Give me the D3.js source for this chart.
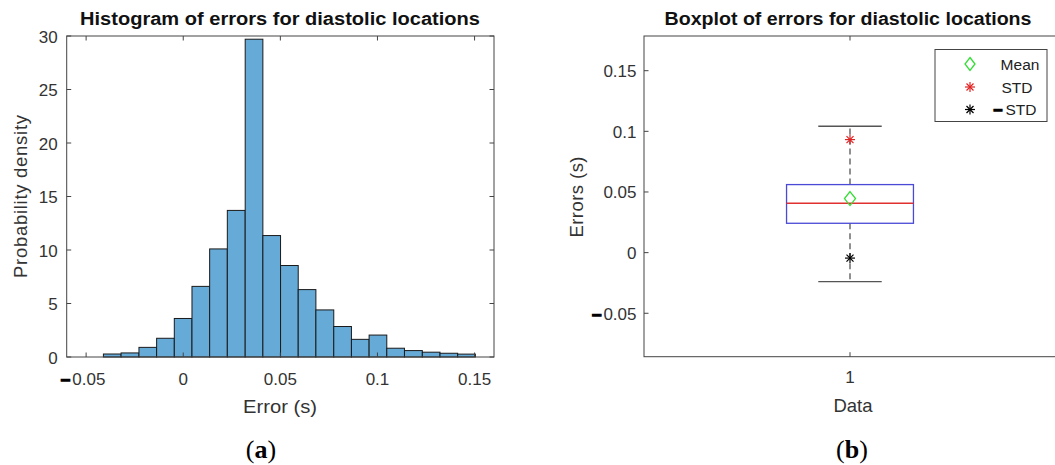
<!DOCTYPE html>
<html>
<head>
<meta charset="utf-8">
<script src="https://cdn.jsdelivr.net/npm/d3@7"></script>
<style>
  html, body { margin: 0; padding: 0; background: #fff; }
  svg { display: block; font-family: "Liberation Sans", Arial, sans-serif; }
</style>
</head>
<body>
<svg id="fig" width="1055" height="465"></svg>
<script>
// Histogram: bin edges (s) and probability density per bin
const binEdges = [-0.0411, -0.0320, -0.0228, -0.0137, -0.0046, 0.0045, 0.0136, 0.0227,
  0.0319, 0.0410, 0.0501, 0.0592, 0.0683, 0.0775, 0.0866, 0.0957, 0.1048, 0.1139,
  0.1231, 0.1322, 0.1413, 0.1504];
const density = [0.28, 0.38, 0.9, 1.75, 3.6, 6.6, 10.1, 13.7, 29.7, 11.35, 8.55, 6.3,
  4.4, 2.85, 1.65, 2.05, 0.82, 0.6, 0.45, 0.35, 0.27];
const histXTicks = [-0.05, 0, 0.05, 0.1, 0.15];
const histYTicks = [0, 5, 10, 15, 20, 25, 30];

// Boxplot summary of the errors (s)
const boxStats = { q1: 0.0242, median: 0.0407, q3: 0.0561, whiskerLow: -0.0239, whiskerHigh: 0.1042 };
const meanError = 0.0446;
const stdHigh = 0.0932;
const stdLow = -0.0045;
const boxYTicks = [-0.05, 0, 0.05, 0.1, 0.15];
const boxXTicks = [1];
const legendLabels = ["Mean", "STD", "STD"];

const svg = d3.select("#fig");
const textCol = "#333333";
const axisCol = "#444444";
const tickLen = 4.5;
const tickFont = 17;
const labelFont = 18.5;
const titleFont = 17.5;

function fmt(v) { return v === 0 ? "0" : String(Math.abs(v)); }

// Writes a tick label; negative values get a heavy black minus in front
function tickLabel(sel, v) {
  sel.text(null);
  if (v < 0) {
    sel.append("tspan").attr("fill", "#000").attr("stroke", "#000").attr("stroke-width", 1.3)
      .attr("font-weight", "bold").text("\u2013");
    sel.append("tspan").attr("dx", 2).text(fmt(v));
  } else {
    sel.append("tspan").text(fmt(v));
  }
}

// ---------------- (a) Histogram ----------------
const hx = d3.scaleLinear().domain([-0.06, 0.16]).range([66.7, 494]);
const hy = d3.scaleLinear().domain([0, 30]).range([357, 36]);
const gA = svg.append("g");

gA.selectAll("rect.bar")
  .data(density)
  .join("rect")
  .attr("class", "bar")
  .attr("x", (d, i) => hx(binEdges[i]))
  .attr("width", (d, i) => hx(binEdges[i + 1]) - hx(binEdges[i]))
  .attr("y", d => hy(d))
  .attr("height", d => hy(0) - hy(d))
  .attr("fill", "#66aad7")
  .attr("stroke", "#1a1a1a")
  .attr("stroke-width", 1);

// axes frame
gA.append("rect")
  .attr("x", hx.range()[0]).attr("y", hy.range()[1])
  .attr("width", hx.range()[1] - hx.range()[0])
  .attr("height", hy.range()[0] - hy.range()[1])
  .attr("fill", "none").attr("stroke", axisCol).attr("stroke-width", 1);

// x ticks (inside, bottom and top)
histXTicks.forEach(t => {
  const x = hx(t);
  gA.append("line").attr("x1", x).attr("x2", x).attr("y1", hy(0)).attr("y2", hy(0) - tickLen).attr("stroke", axisCol);
  gA.append("line").attr("x1", x).attr("x2", x).attr("y1", hy(30)).attr("y2", hy(30) + tickLen).attr("stroke", axisCol);
  gA.append("text").attr("x", x - (t < 0 ? 3 : 0)).attr("y", 385).attr("text-anchor", "middle")
    .attr("font-size", tickFont).attr("fill", textCol).call(tickLabel, t);
});
// y ticks (inside, left and right)
histYTicks.forEach(t => {
  const y = hy(t);
  gA.append("line").attr("x1", hx.range()[0]).attr("x2", hx.range()[0] + tickLen).attr("y1", y).attr("y2", y).attr("stroke", axisCol);
  gA.append("line").attr("x1", hx.range()[1]).attr("x2", hx.range()[1] - tickLen).attr("y1", y).attr("y2", y).attr("stroke", axisCol);
  gA.append("text").attr("x", hx.range()[0] - 9).attr("y", y + 6.5).attr("text-anchor", "end")
    .attr("font-size", tickFont).attr("fill", textCol).text(t);
});

gA.append("text").attr("x", 280).attr("y", 25).attr("text-anchor", "middle")
  .attr("font-size", titleFont).attr("font-weight", "bold").attr("fill", "#111")
  .attr("textLength", 400).attr("lengthAdjust", "spacingAndGlyphs")
  .text("Histogram of errors for diastolic locations");
gA.append("text").attr("x", 280).attr("y", 413).attr("text-anchor", "middle")
  .attr("font-size", labelFont).attr("fill", textCol)
  .attr("textLength", 74).attr("lengthAdjust", "spacingAndGlyphs").text("Error (s)");
gA.append("text").attr("transform", "translate(27,196.5) rotate(-90)").attr("text-anchor", "middle")
  .attr("font-size", labelFont).attr("fill", textCol)
  .attr("textLength", 163).attr("lengthAdjust", "spacing").text("Probability density");

gA.append("text").attr("x", 261).attr("y", 458).attr("text-anchor", "middle")
  .attr("font-family", "'Liberation Serif', 'DejaVu Serif', serif").attr("font-size", 26).attr("fill", "#000")
  .html('(<tspan font-weight="bold">a</tspan>)');

// ---------------- (b) Boxplot ----------------
const bx = d3.scaleLinear().domain([0.5, 1.5]).range([644, 1056]);
const by = d3.scaleLinear().domain([-0.0858, 0.1786]).range([356.7, 36]);
const gB = svg.append("g");

// axes frame
gB.append("rect")
  .attr("x", bx.range()[0]).attr("y", by.range()[1])
  .attr("width", bx.range()[1] - bx.range()[0])
  .attr("height", by.range()[0] - by.range()[1])
  .attr("fill", "none").attr("stroke", axisCol).attr("stroke-width", 1);

boxYTicks.forEach(t => {
  const y = by(t);
  gB.append("line").attr("x1", bx.range()[0]).attr("x2", bx.range()[0] + tickLen).attr("y1", y).attr("y2", y).attr("stroke", axisCol);
  gB.append("text").attr("x", bx.range()[0] - 7.5).attr("y", y + 6.5).attr("text-anchor", "end")
    .attr("font-size", tickFont).attr("fill", textCol).call(tickLabel, t);
});
boxXTicks.forEach(t => {
  const x = bx(t);
  gB.append("line").attr("x1", x).attr("x2", x).attr("y1", by.range()[0]).attr("y2", by.range()[0] - tickLen).attr("stroke", axisCol);
  gB.append("line").attr("x1", x).attr("x2", x).attr("y1", by.range()[1]).attr("y2", by.range()[1] + tickLen).attr("stroke", axisCol);
  gB.append("text").attr("x", x).attr("y", 383).attr("text-anchor", "middle")
    .attr("font-size", tickFont).attr("fill", textCol).text(t);
});

const cx = bx(1);
const boxHalf = 0.154, capHalf = 0.077;
// whiskers
gB.append("line").attr("x1", cx).attr("x2", cx).attr("y1", by(boxStats.q3)).attr("y2", by(boxStats.whiskerHigh))
  .attr("stroke", "#555").attr("stroke-width", 1.3).attr("stroke-dasharray", "6,4");
gB.append("line").attr("x1", cx).attr("x2", cx).attr("y1", by(boxStats.q1)).attr("y2", by(boxStats.whiskerLow))
  .attr("stroke", "#555").attr("stroke-width", 1.3).attr("stroke-dasharray", "6,4");
[boxStats.whiskerHigh, boxStats.whiskerLow].forEach(v => {
  gB.append("line").attr("x1", bx(1 - capHalf)).attr("x2", bx(1 + capHalf)).attr("y1", by(v)).attr("y2", by(v))
    .attr("stroke", "#555").attr("stroke-width", 1.3);
});
// box and median
gB.append("rect").attr("x", bx(1 - boxHalf)).attr("width", bx(1 + boxHalf) - bx(1 - boxHalf))
  .attr("y", by(boxStats.q3)).attr("height", by(boxStats.q1) - by(boxStats.q3))
  .attr("fill", "none").attr("stroke", "#4a4ad6").attr("stroke-width", 1.3);
gB.append("line").attr("x1", bx(1 - boxHalf)).attr("x2", bx(1 + boxHalf))
  .attr("y1", by(boxStats.median)).attr("y2", by(boxStats.median))
  .attr("stroke", "#e03030").attr("stroke-width", 1.3);

// marker helpers
function diamond(g, x, y, col, w, h) {
  g.append("path").attr("d", `M${x},${y - h}L${x + w},${y}L${x},${y + h}L${x - w},${y}Z`)
    .attr("fill", "none").attr("stroke", col).attr("stroke-width", 1.3);
}
function star(g, x, y, col) {
  const r = 5;
  const p = [[0, -r, 0, r], [-r, 0, r, 0], [-r * 0.7, -r * 0.7, r * 0.7, r * 0.7], [-r * 0.7, r * 0.7, r * 0.7, -r * 0.7]];
  p.forEach(s => g.append("line").attr("x1", x + s[0]).attr("y1", y + s[1]).attr("x2", x + s[2]).attr("y2", y + s[3])
    .attr("stroke", col).attr("stroke-width", 1.2));
}
diamond(gB, cx, by(meanError), "#33dd33", 5.5, 7);
star(gB, cx, by(stdHigh), "#e02424");
star(gB, cx, by(stdLow), "#000");

// legend
const lg = gB.append("g");
lg.append("rect").attr("x", 935).attr("y", 49.5).attr("width", 112).attr("height", 72)
  .attr("fill", "#fff").attr("stroke", "#444").attr("stroke-width", 1);
const legendY = [64, 87, 109.5];
const legendX = [1020, 1017, 1021];
diamond(lg, 970, legendY[0], "#33dd33", 5, 6.5);
star(lg, 970, legendY[1], "#e02424");
star(lg, 970, legendY[2], "#000");
legendLabels.forEach((lab, i) => {
  lg.append("text").attr("x", legendX[i]).attr("y", legendY[i] + 5.5).attr("text-anchor", "middle")
    .attr("font-size", 15.5).attr("fill", "#222").text(lab);
  if (i === 2) {
    lg.append("text").attr("x", 998).attr("y", legendY[i] + 5.5).attr("text-anchor", "middle")
      .attr("font-size", 16).attr("font-weight", "bold").attr("fill", "#000")
      .attr("stroke", "#000").attr("stroke-width", 1.3).text("\u2013");
  }
});

gB.append("text").attr("x", 848).attr("y", 25).attr("text-anchor", "middle")
  .attr("font-size", titleFont).attr("font-weight", "bold").attr("fill", "#111")
  .attr("textLength", 367).attr("lengthAdjust", "spacingAndGlyphs")
  .text("Boxplot of errors for diastolic locations");
gB.append("text").attr("x", 853).attr("y", 412).attr("text-anchor", "middle")
  .attr("font-size", labelFont).attr("fill", textCol).text("Data");
gB.append("text").attr("transform", "translate(583,197) rotate(-90)").attr("text-anchor", "middle")
  .attr("font-size", labelFont).attr("fill", textCol)
  .attr("textLength", 81).attr("lengthAdjust", "spacing").text("Errors (s)");

gB.append("text").attr("x", 852).attr("y", 458).attr("text-anchor", "middle")
  .attr("font-family", "'Liberation Serif', 'DejaVu Serif', serif").attr("font-size", 26).attr("fill", "#000")
  .html('(<tspan font-weight="bold">b</tspan>)');
</script>
</body>
</html>
